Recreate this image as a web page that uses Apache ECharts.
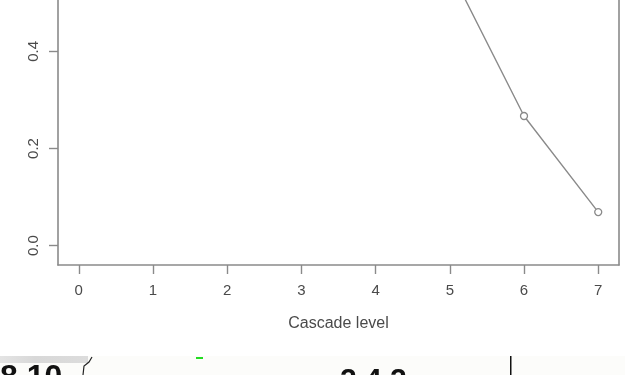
<!DOCTYPE html>
<html>
<head>
<meta charset="utf-8">
<script src="https://cdn.jsdelivr.net/npm/echarts@6/dist/echarts.min.js"></script>
<style>html,body{margin:0;padding:0;background:#fff}#c{width:625px;height:375px}</style>
</head>
<body>
<div id="c"></div>
<script>
// Data
const levels = [0, 1, 2, 3, 4, 5, 6, 7];
const values = [1.0, 0.99, 0.97, 0.92, 0.80, 0.57, 0.267, 0.069];
const xTicks = [0, 1, 2, 3, 4, 5, 6, 7];
const yTicks = [0.0, 0.2, 0.4];
const xTitle = 'Cascade level';

const chart = echarts.init(document.getElementById('c'), null, {renderer: 'canvas'});
const grey = '#8a8a8a';
const txt = '#4a4a4a';
const font = 'Liberation Sans, Arial, sans-serif';
const yMin = -0.04, yMax = 0.506;

chart.setOption({
  animation: false,
  backgroundColor: '#ffffff',
  grid: {left: 58, right: 6, top: 0, bottom: 110, show: false},
  xAxis: {
    type: 'value', min: -0.28, max: 7.28,
    name: xTitle, nameLocation: 'middle', nameGap: 51,
    nameTextStyle: {color: txt, fontSize: 16, fontFamily: font},
    axisLine: {show: true, onZero: false, lineStyle: {color: grey, width: 1.6}},
    axisTick: {show: true, inside: false, length: 9, customValues: xTicks, lineStyle: {color: grey, width: 1.4}},
    axisLabel: {customValues: xTicks, margin: 18, color: txt, fontSize: 15, fontFamily: font,
      formatter: v => String(v)},
    splitLine: {show: false}
  },
  yAxis: [{
    type: 'value', min: yMin, max: yMax, position: 'left',
    axisLine: {show: true, onZero: false, lineStyle: {color: grey, width: 1.6}},
    axisTick: {show: true, inside: false, length: 9, customValues: yTicks, lineStyle: {color: grey, width: 1.4}},
    axisLabel: {customValues: yTicks, margin: 17, rotate: 90, color: txt, fontSize: 15, fontFamily: font,
      formatter: v => v.toFixed(1)},
    splitLine: {show: false}
  }, {
    type: 'value', min: yMin, max: yMax, position: 'right',
    axisLine: {show: true, onZero: false, lineStyle: {color: grey, width: 1.6}},
    axisTick: {show: false}, axisLabel: {show: false}, splitLine: {show: false}
  }],
  series: [{
    type: 'line',
    yAxisIndex: 0,
    data: levels.map((x, i) => [x, values[i]]),
    symbol: 'circle', symbolSize: 7,
    itemStyle: {color: '#ffffff', borderColor: grey, borderWidth: 1.3},
    lineStyle: {color: grey, width: 1.4},
    clip: true
  }],
  graphic: [
    {type: 'rect', shape: {x: 0, y: 356, width: 625, height: 19}, style: {fill: '#fcfcfa'}, z: 100},
    {type: 'rect', shape: {x: 0, y: 356, width: 88, height: 7},
      style: {fill: new echarts.graphic.LinearGradient(0, 0, 1, 0, [{offset: 0, color: '#e4e4e4'}, {offset: 0.4, color: '#d8d8d8'}, {offset: 1, color: '#dcdcdc'}])}, z: 101},
    {type: 'text', x: 0, y: 362, style: {text: '8.10', font: 'bold 32px Liberation Sans, Arial, sans-serif', fill: '#111'}, z: 102},
    {type: 'polyline', shape: {points: [[92, 357], [89, 362], [84, 366], [83, 375]]}, style: {stroke: '#222', lineWidth: 1.2, fill: null}, z: 102},
    {type: 'rect', shape: {x: 196, y: 357, width: 7, height: 2}, style: {fill: '#22dd22'}, z: 102},
    {type: 'text', x: 340, y: 366, style: {text: '2.4.2.', font: 'bold 30px Liberation Sans, Arial, sans-serif', fill: '#111'}, z: 102},
    {type: 'rect', shape: {x: 510, y: 356, width: 1.5, height: 19}, style: {fill: '#111'}, z: 102}
  ]
});
</script>
</body>
</html>
